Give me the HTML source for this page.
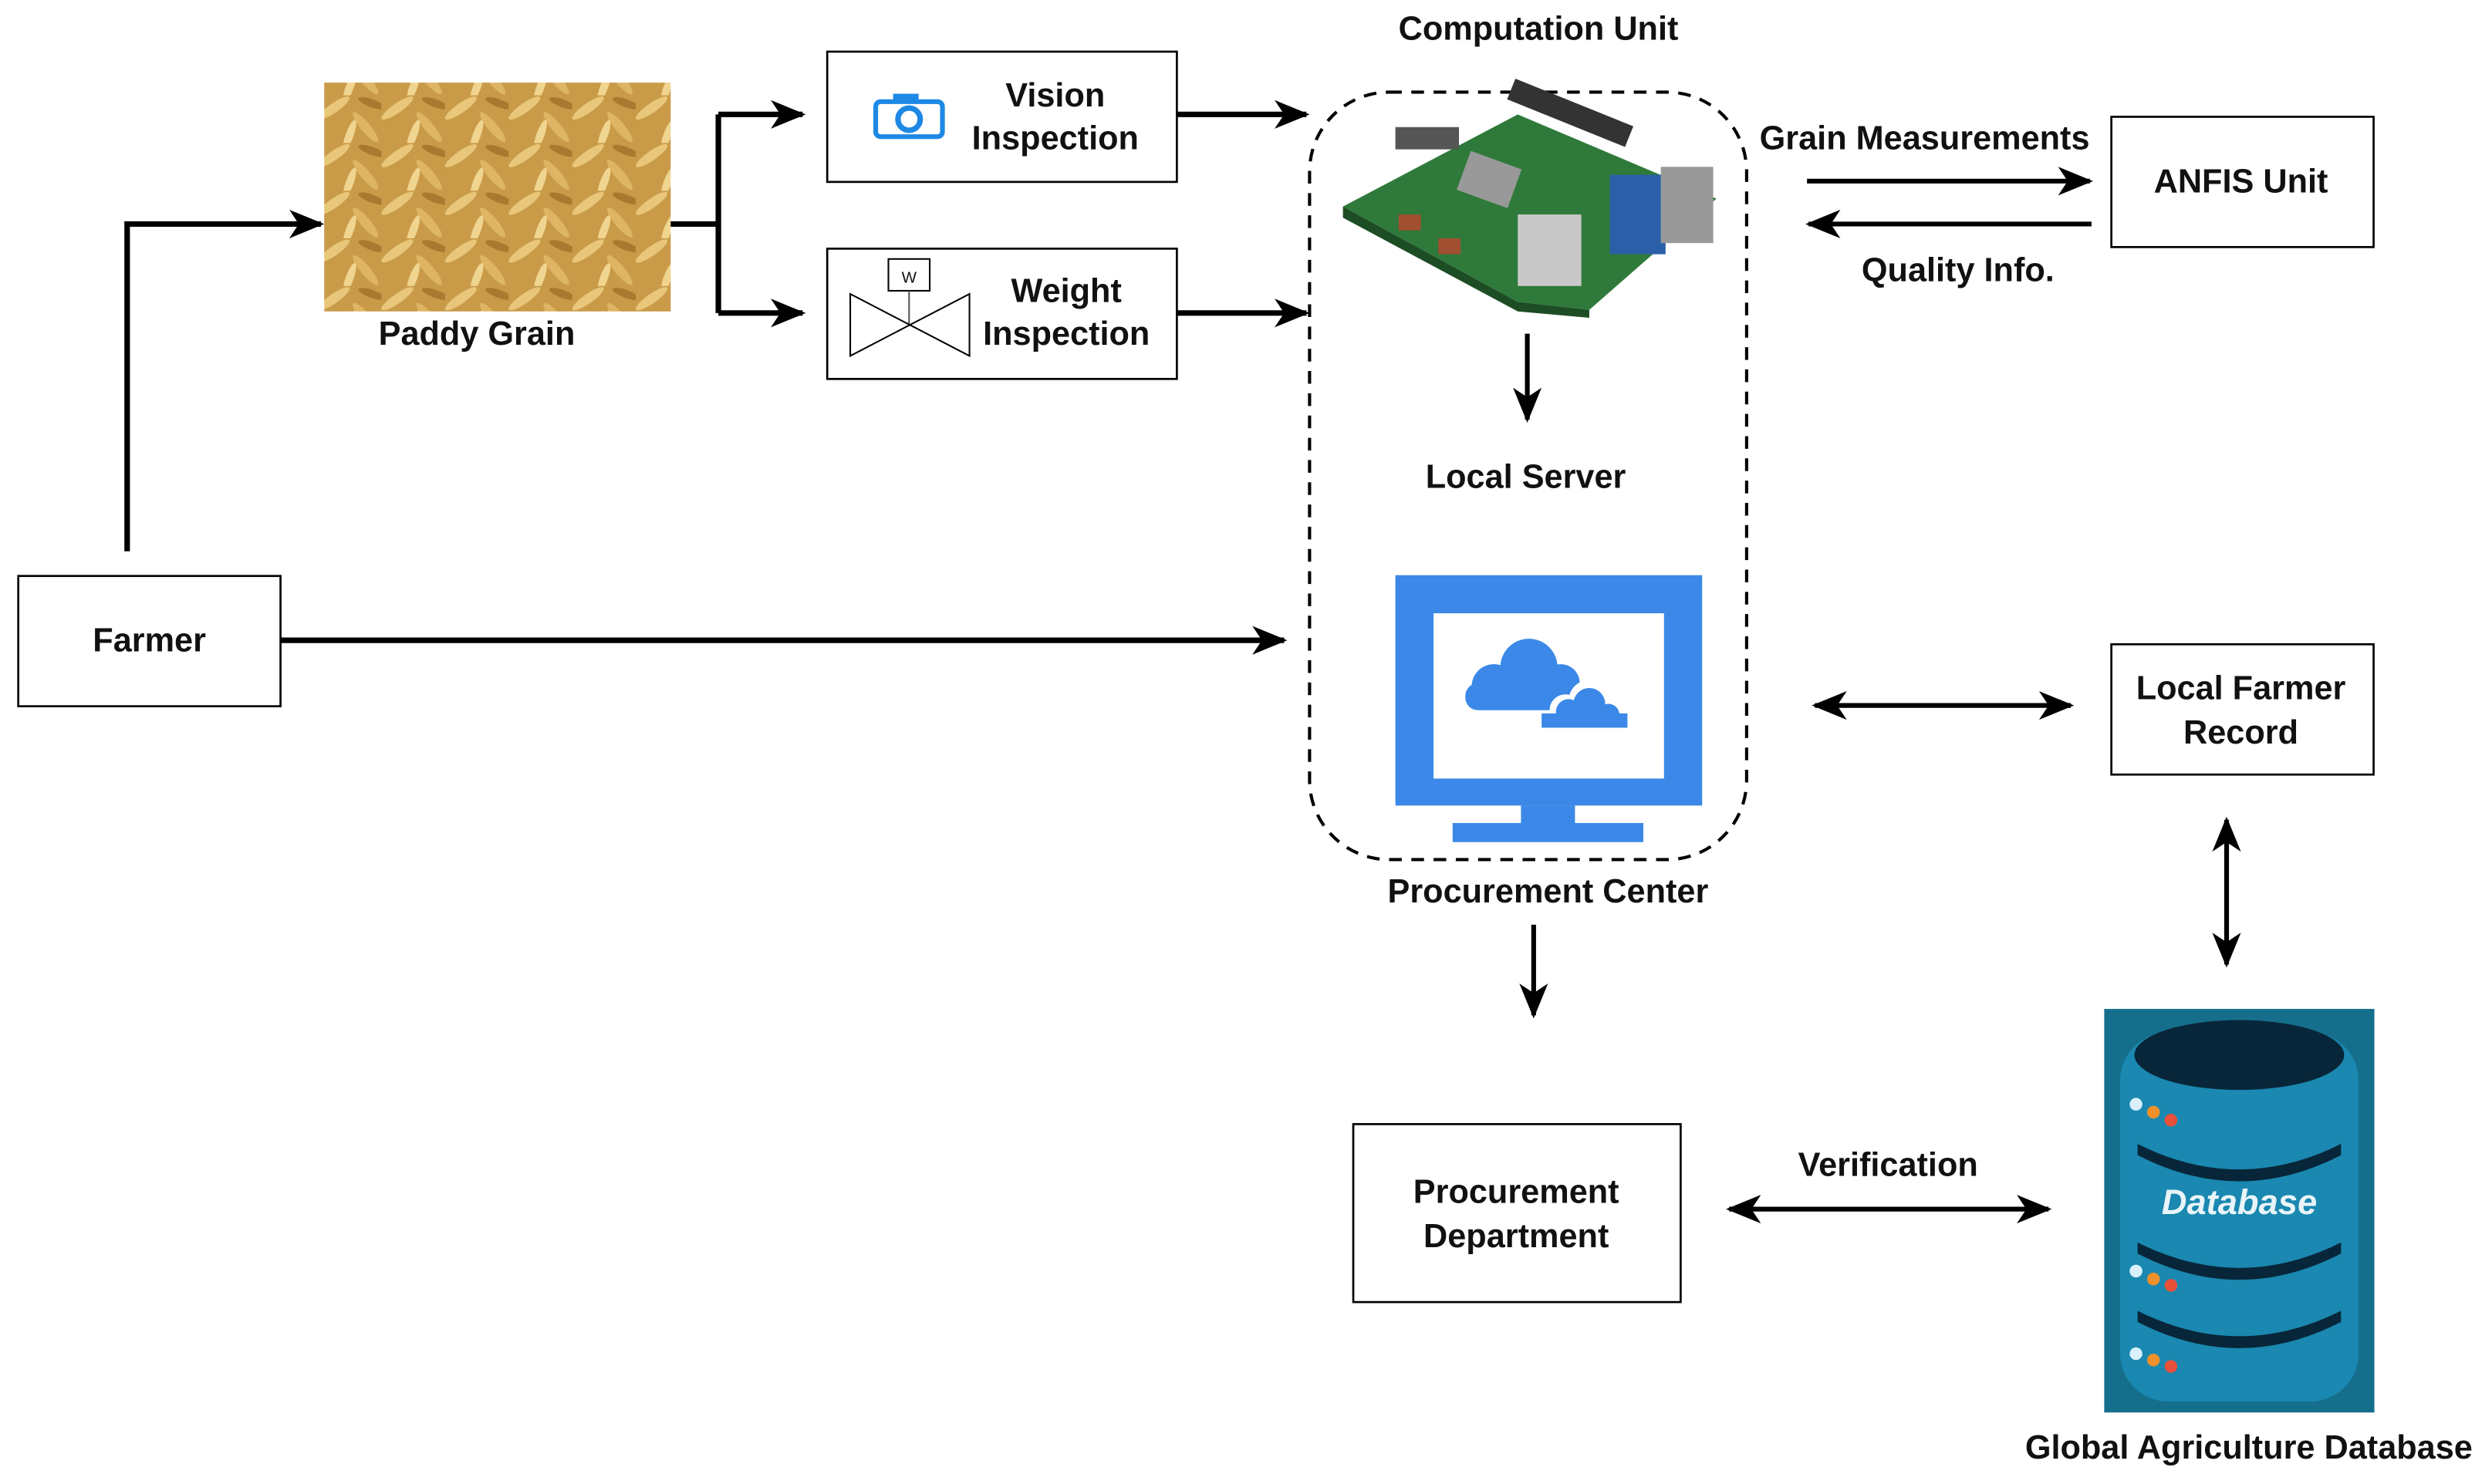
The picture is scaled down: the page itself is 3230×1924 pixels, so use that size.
<!DOCTYPE html>
<html><head><meta charset="utf-8"><style>
html,body{margin:0;padding:0;background:#fff}
svg{display:block}
text{font-family:"Liberation Sans",sans-serif;font-weight:bold;font-size:21px;fill:#111;text-anchor:middle}
</style></head><body>
<svg width="3230" height="1924" viewBox="0 0 1568 934" xmlns="http://www.w3.org/2000/svg">
<defs>
<marker id="a" markerWidth="10" markerHeight="10" refX="9" refY="5" orient="auto" markerUnits="userSpaceOnUse" viewBox="0 0 10 10">
<path d="M0,0 L10,5 L0,10 L3,5 z" fill="#000"/></marker>
<marker id="as" markerWidth="22" markerHeight="22" refX="20" refY="11" orient="auto-start-reverse" markerUnits="userSpaceOnUse" viewBox="0 0 22 22">
<path d="M0,2 L22,11 L0,20 L6,11 z" fill="#000"/></marker>
<pattern id="grain" width="40" height="30" patternUnits="userSpaceOnUse">
<rect width="40" height="30" fill="#c99a48"/>
<ellipse cx="10" cy="8" rx="12" ry="3" fill="#e8c77a" transform="rotate(-35 10 8)"/>
<ellipse cx="30" cy="20" rx="12" ry="3" fill="#deb565" transform="rotate(50 30 20)"/>
<ellipse cx="20" cy="25" rx="10" ry="2.5" fill="#f0d590" transform="rotate(-70 20 25)"/>
<ellipse cx="34" cy="5" rx="9" ry="2.5" fill="#a87a30" transform="rotate(20 34 5)"/>
</pattern>
</defs>

<!-- Paddy grain -->
<rect x="204" y="52" width="218" height="144" fill="url(#grain)"/>
<text x="300" y="217">Paddy Grain</text>

<!-- Vision box -->
<rect x="520.5" y="32.5" width="220" height="82" fill="#fff" stroke="#000" stroke-width="1.3"/>
<rect x="551" y="64" width="42" height="22" rx="3" fill="none" stroke="#1e88e5" stroke-width="3"/>
<rect x="562" y="59" width="16" height="6" fill="#1e88e5"/>
<circle cx="572" cy="75" r="7" fill="none" stroke="#1e88e5" stroke-width="3.5"/>
<text x="664" y="67">Vision</text>
<text x="664" y="94">Inspection</text>

<!-- Weight box -->
<rect x="520.5" y="156.5" width="220" height="82" fill="#fff" stroke="#000" stroke-width="1.3"/>
<rect x="559" y="163" width="26" height="20" fill="#fff" stroke="#000" stroke-width="1"/>
<text x="572" y="178" style="font-size:10px;font-weight:normal">W</text>
<line x1="572" y1="183" x2="572" y2="205" stroke="#555" stroke-width="1"/>
<path d="M535,185 L535,224 L610,185 L610,224 Z" fill="none" stroke="#000" stroke-width="1"/>
<text x="671" y="190">Weight</text>
<text x="671" y="217">Inspection</text>

<!-- Farmer -->
<rect x="11.5" y="362.5" width="165" height="82" fill="#fff" stroke="#000" stroke-width="1.3"/>
<text x="94" y="410">Farmer</text>

<!-- connectors left -->
<g stroke="#000" stroke-width="3.5" fill="none">
<path d="M80,347 L80,141 L202,141" marker-end="url(#as)"/>
<path d="M422,141 L452,141"/>
<path d="M452,72 L452,197"/>
<path d="M452,72 L505,72" marker-end="url(#as)"/>
<path d="M452,197 L505,197" marker-end="url(#as)"/>
<path d="M741,72 L822,72" marker-end="url(#as)"/>
<path d="M741,197 L822,197" marker-end="url(#as)"/>
<path d="M177,403 L808,403" marker-end="url(#as)"/>
</g>

<!-- dashed container -->
<rect x="824" y="58" width="275" height="483" rx="50" fill="none" stroke="#000" stroke-width="2" stroke-dasharray="8,6"/>
<text x="968" y="25">Computation Unit</text>

<!-- raspberry pi -->
<g>
<polygon points="845,130 955,72 1080,125 1000,195 955,190" fill="#2f7a3a"/>
<polygon points="845,130 955,190 1000,195 1000,200 955,196 845,137" fill="#1d4d25"/>
<rect x="948" y="64" width="80" height="14" fill="#333" transform="rotate(22 988 71)"/>
<rect x="920" y="100" width="34" height="26" fill="#999" transform="rotate(20 937 113)"/>
<rect x="955" y="135" width="40" height="45" fill="#c8c8c8"/>
<rect x="1013" y="110" width="35" height="50" fill="#2b5fa8"/>
<rect x="1045" y="105" width="33" height="48" fill="#999"/>
<rect x="878" y="80" width="40" height="14" fill="#555"/>
<rect x="880" y="135" width="14" height="10" fill="#a05030"/>
<rect x="905" y="150" width="14" height="10" fill="#a05030"/>
</g>

<g stroke="#000" stroke-width="3" fill="none">
<path d="M961,210 L961,264" marker-end="url(#as)"/>
</g>
<text x="960" y="307">Local Server</text>

<!-- monitor -->
<rect x="878" y="362" width="193" height="145" fill="#3b88e8"/>
<rect x="902" y="386" width="145" height="104" fill="#fff"/>
<rect x="957" y="507" width="34" height="12" fill="#3b88e8"/>
<rect x="914" y="518" width="120" height="12" fill="#3b88e8"/>
<g fill="#3b88e8">
<circle cx="940" cy="432" r="14"/><circle cx="962" cy="420" r="18"/><circle cx="982" cy="430" r="12"/>
<rect x="922" y="430" width="70" height="17" rx="8"/>
<circle cx="985" cy="447" r="10" fill="#fff"/><circle cx="1000" cy="441" r="13" fill="#fff"/>
<circle cx="987" cy="448" r="8"/><circle cx="1000" cy="443" r="10"/><circle cx="1012" cy="450" r="7"/>
<rect x="970" y="449" width="54" height="9"/>
</g>
<text x="974" y="568">Procurement Center</text>

<g stroke="#000" stroke-width="3" fill="none">
<path d="M965,582 L965,639" marker-end="url(#as)"/>
</g>

<!-- Procurement Dept -->
<rect x="851.5" y="707.5" width="206" height="112" fill="#fff" stroke="#000" stroke-width="1.3"/>
<text x="954" y="757">Procurement</text>
<text x="954" y="785">Department</text>

<!-- ANFIS -->
<rect x="1328.5" y="73.5" width="165" height="82" fill="#fff" stroke="#000" stroke-width="1.3"/>
<text x="1410" y="121">ANFIS Unit</text>
<text x="1211" y="94">Grain Measurements</text>
<text x="1232" y="177">Quality Info.</text>

<!-- Local Farmer Record -->
<rect x="1328.5" y="405.5" width="165" height="82" fill="#fff" stroke="#000" stroke-width="1.3"/>
<text x="1410" y="440">Local Farmer</text>
<text x="1410" y="468">Record</text>

<g stroke="#000" stroke-width="3" fill="none">
<path d="M1137,114 L1315,114" marker-end="url(#as)"/>
<path d="M1316,141 L1138,141" marker-end="url(#as)"/>
<path d="M1142,444 L1303,444" marker-start="url(#as)" marker-end="url(#as)"/>
<path d="M1401,516 L1401,607" marker-start="url(#as)" marker-end="url(#as)"/>
<path d="M1088,761 L1289,761" marker-start="url(#as)" marker-end="url(#as)"/>
</g>
<text x="1188" y="740">Verification</text>

<!-- Database -->
<rect x="1324" y="635" width="170" height="254" fill="#156f8c"/>
<rect x="1334" y="650" width="150" height="232" rx="30" fill="#1a88b0"/>
<ellipse cx="1409" cy="664" rx="66" ry="22" fill="#08263a"/>
<path d="M1345,720 Q1409,752 1473,720 L1473,727 Q1409,760 1345,727 Z" fill="#08263a"/>
<path d="M1345,782 Q1409,814 1473,782 L1473,789 Q1409,822 1345,789 Z" fill="#08263a"/>
<path d="M1345,825 Q1409,857 1473,825 L1473,832 Q1409,865 1345,832 Z" fill="#08263a"/>
<g>
<circle cx="1344" cy="695" r="4" fill="#d8f0fa"/><circle cx="1355" cy="700" r="4" fill="#f0902a"/><circle cx="1366" cy="705" r="4" fill="#e8503a"/>
<circle cx="1344" cy="800" r="4" fill="#d8f0fa"/><circle cx="1355" cy="805" r="4" fill="#f0902a"/><circle cx="1366" cy="809" r="4" fill="#e8503a"/>
<circle cx="1344" cy="852" r="4" fill="#d8f0fa"/><circle cx="1355" cy="856" r="4" fill="#f0902a"/><circle cx="1366" cy="860" r="4" fill="#e8503a"/>
</g>
<text x="1409" y="764" style="fill:#e8f4f8;font-style:italic;font-size:22px">Database</text>
<text x="1415" y="918">Global Agriculture Database</text>
</svg>
</body></html>
